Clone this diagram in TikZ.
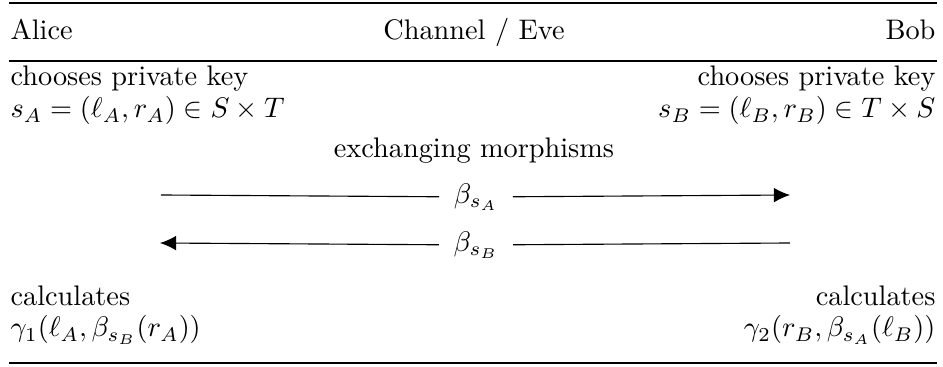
\documentclass[tikz,border=0pt]{standalone}
\usetikzlibrary{arrows.meta}
\begin{document}
\begin{tikzpicture}[x=0.3534pt,y=-0.3534pt,
  lbl/.style={inner sep=0pt,anchor=base west},
  rbl/.style={inner sep=0pt,anchor=base east},
  cbl/.style={inner sep=0pt,anchor=base},
  msg/.style={inner xsep=5pt,inner ysep=0pt,anchor=center},
  heavy/.style={line width=0.8pt},
  light/.style={line width=0.5pt},
  arr/.style={line width=0.4pt,-{Latex[length=5.7pt,width=5.2pt]}},
  plain/.style={line width=0.4pt}]
\useasboundingbox (0,0) rectangle (943,367);
% rules
\coordinate (t1) at (9,3); \coordinate (t2) at (937,3);
\coordinate (m1) at (9,61); \coordinate (m2) at (937,61);
\coordinate (b1) at (9,363); \coordinate (b2) at (937,363);
\draw[heavy] (t1) -- (t2);
\draw[light] (m1) -- (m2);
\draw[heavy] (b1) -- (b2);
% header
\node[lbl] (alice) at (10,40) {Alice};
\node[cbl] (chan) at (474,40) {Channel / Eve};
\node[rbl] (bob) at (936,40) {Bob};
% keys
\node[lbl] (ka) at (10,86) {chooses private key};
\node[lbl] (sa) at (10,118) {$s_A=(\ell_A,r_A)\in S\times T$};
\node[rbl] (kb) at (936,86) {chooses private key};
\node[rbl] (sb) at (936,118) {$s_B=(\ell_B,r_B)\in T\times S$};
% exchange
\node[cbl] (ex) at (474,158) {exchanging morphisms};
\node[msg] (ba) at (476,197) {$\beta_{s_A}$};
\coordinate (a1l) at (161,195);
\coordinate (a1r) at (790,195);
\draw[plain] (a1l) -- (ba);
\draw[arr] (ba) -- (a1r);
\node[msg] (bb) at (476,245) {$\beta_{s_B}$};
\coordinate (a2l) at (160,243);
\coordinate (a2r) at (790,243);
\draw[plain] (a2r) -- (bb);
\draw[arr] (bb) -- (a2l);
% results
\node[lbl] (ca) at (10,306) {calculates};
\node[lbl] (ga) at (10,337) {$\gamma_1(\ell_A,\beta_{s_B}(r_A))$};
\node[rbl] (cb) at (936,306) {calculates};
\node[rbl] (gb) at (936,337) {$\gamma_2(r_B,\beta_{s_A}(\ell_B))$};
\end{tikzpicture}
\end{document}
